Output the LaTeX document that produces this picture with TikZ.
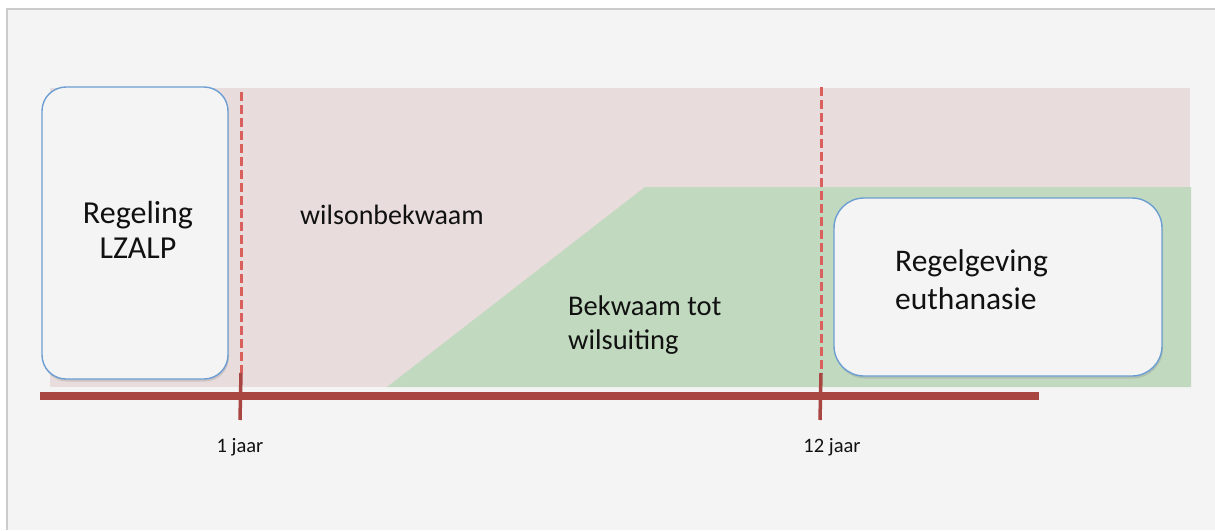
\documentclass[tikz,border=0pt]{standalone}
\usepackage{fontspec}
\setmainfont{Carlito}
\usetikzlibrary{shadows}
\definecolor{bgc}{HTML}{F4F4F4}
\definecolor{framec}{HTML}{CCCCCC}
\definecolor{pinkc}{HTML}{E8DCDC}
\definecolor{greenc}{HTML}{C1D9BF}
\definecolor{linec}{HTML}{AA4642}
\definecolor{dashc}{HTML}{D9605C}
\definecolor{boxline}{HTML}{6D9ED3}
\definecolor{txtc}{HTML}{111111}
\tikzset{
  roundbox/.style={draw=boxline, line width=1.4pt, fill=bgc, rounded corners=#1,
    drop shadow={shadow xshift=1pt, shadow yshift=-2.5pt, opacity=0.25}},
  bigtxt/.style={text=txtc, align=left, inner sep=0pt},
  smalltxt/.style={font=\fontsize{20.5}{24}\selectfont, text=txtc, inner sep=0pt},
  dashln/.style={draw=dashc, line width=3pt, dash pattern=on 9pt off 4pt},
  tickln/.style={draw=linec, line width=3.5pt},
}
\begin{document}
\begin{tikzpicture}[x=1pt,y=-1pt]
\useasboundingbox (0,0) rectangle (1215,530);
\fill[white] (0,0) rectangle (1215,530);
\fill[bgc] (7,9) rectangle (1215,530);
\draw[framec, line width=2pt] (7,530) -- (7,9) -- (1215,9);
% bands
\fill[pinkc] (50,88) rectangle (1190,387);
\fill[greenc] (387,387) -- (645,187) -- (1191,187) -- (1191,387) -- cycle;
% timeline
\coordinate (tl) at (40,396);
\coordinate (tr) at (1039,396);
\draw[linec, line width=8.5pt] (tl) -- (tr);
% ticks and dashed lines
\coordinate (d1t) at (241,92);
\coordinate (d1b) at (241,373);
\coordinate (t1b) at (240,420);
\coordinate (d2t) at (821,87);
\coordinate (d2b) at (821,373);
\coordinate (t2b) at (820,420);
\draw[dashln] (d1t) -- (d1b);
\draw[dashln] (d2t) -- (d2b);
\draw[tickln] (d1b) -- (t1b);
\draw[tickln] (d2b) -- (t2b);
\node[smalltxt] (l1) at (240,447) {1 jaar};
\node[smalltxt] (l2) at (832,447) {12 jaar};
% boxes
\node[roundbox=24pt, minimum width=186pt, minimum height=292pt, inner sep=0pt] (lz) at (135,233) {};
\node[bigtxt, align=center, font=\fontsize{32}{35}\selectfont] (lzt) at (138,230) {Regeling\\LZALP};
\node[roundbox=30pt, minimum width=328pt, minimum height=178pt, inner sep=0pt] (eu) at (998,287) {};
\node[bigtxt, anchor=west, font=\fontsize{31.5}{38}\selectfont] (eut) at (895,280) {Regelgeving\\euthanasie};
% band labels
\node[font=\fontsize{28}{34}\selectfont, text=txtc, inner sep=0pt] (wo) at (392,215) {wilsonbekwaam};
\node[bigtxt, anchor=west, font=\fontsize{28.5}{34}\selectfont] (bw) at (568,325) {Bekwaam tot\\wilsuiting};
\end{tikzpicture}
\end{document}
